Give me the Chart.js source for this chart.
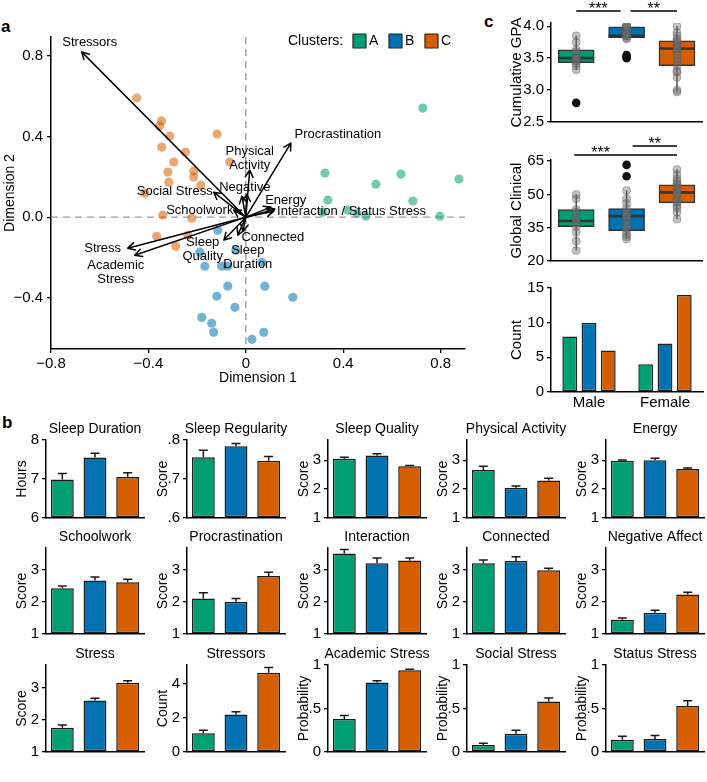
<!DOCTYPE html>
<html><head><meta charset="utf-8">
<script src="https://cdn.jsdelivr.net/npm/chart.js@4.4.1/dist/chart.umd.min.js"></script>
<style>
body{margin:0;background:#fff;width:707px;height:782px;position:relative;overflow:hidden;font-family:'Liberation Sans',Arial,Helvetica,sans-serif}
canvas{position:absolute}
.lbl{position:absolute;font-weight:bold;font-size:17px;line-height:20px}
</style></head><body>
<div class="lbl" style="left:1px;top:17px">a</div>
<div class="lbl" style="left:2px;top:413px">b</div>
<div class="lbl" style="left:484px;top:12px">c</div>
<script>
// ---------------- DATA ----------------
const clusters = ['A', 'B', 'C'];
const palette = ['#009E73', '#0072B2', '#D55E00'];
const paletteLight = ['rgba(0,158,115,0.55)', 'rgba(0,114,178,0.55)', 'rgba(213,94,0,0.55)'];

// Panel a: biplot scores
const ptsAx = [0.727, 0.325, 0.637, 0.534, 0.875, 0.337, 0.686, 0.316, 0.419, 0.456, 0.493, 0.797];
const ptsAy = [0.542, 0.219, 0.214, 0.164, 0.189, 0.085, 0.080, 0.025, 0.035, 0.020, 0.005, 0.005];
const ptsBx = [-0.115, -0.189, -0.168, -0.099, -0.074, 0.066, -0.074, 0.078, -0.119, 0.193, -0.045, -0.181, -0.140, -0.132, 0.074, 0.025, -0.041];
const ptsBy = [-0.065, -0.174, -0.244, -0.244, -0.244, -0.224, -0.343, -0.343, -0.393, -0.398, -0.448, -0.498, -0.527, -0.572, -0.572, -0.607, -0.164];
const ptsCx = [-0.448, -0.346, -0.354, -0.312, -0.345, -0.248, -0.296, -0.118, -0.066, -0.320, -0.214, -0.316, -0.214, -0.185, -0.415, -0.341, -0.222, -0.366, -0.288, -0.238];
const ptsCy = [0.592, 0.478, 0.453, 0.403, 0.348, 0.323, 0.274, 0.413, 0.274, 0.224, 0.229, 0.174, 0.199, 0.159, 0.119, 0.010, -0.005, -0.095, -0.144, -0.090];

// Panel a: loadings (arrows)
const arrowNames = ['Stressors', 'Procrastination', 'Physical Activity', 'Negative Affect', 'Sleep Regularity', 'Social Stress', 'Schoolwork', 'Energy', 'Interaction', 'Status Stress', 'Connected', 'Sleep Duration', 'Sleep Quality', 'Stress', 'Academic Stress'];
const arrowX = [-0.674, 0.185, 0.016, 0.004, -0.016, -0.132, -0.05, 0.103, 0.119, 0.115, -0.012, -0.033, -0.09, -0.485, -0.456];
const arrowY = [0.821, 0.368, 0.234, 0.114, 0.104, 0.124, 0.035, 0.05, 0.04, 0.03, -0.07, -0.09, -0.114, -0.154, -0.189];
const labelText = ['Stressors', 'Procrastination', 'Physical\nActivity', 'Negative', 'Social Stress', 'Schoolwork', 'Energy', 'Interaction / Status Stress', 'Connected', 'Sleep\nQuality', 'Sleep\nDuration', 'Stress', 'Academic\nStress'];
const labelX = [-0.641, 0.378, 0.016, -0.004, -0.292, -0.189, 0.164, 0.434, 0.111, -0.177, 0.008, -0.588, -0.534];
const labelY = [0.866, 0.413, 0.291, 0.149, 0.129, 0.035, 0.085, 0.03, -0.1, -0.162, -0.199, -0.154, -0.274];
const biplotXTicks = [-0.8, -0.4, 0, 0.4, 0.8];
const biplotXLabels = ['\u22120.8', '\u22120.4', '0', '0.4', '0.8'];
const biplotYTicks = [-0.4, 0, 0.4, 0.8];
const biplotYLabels = ['\u22120.4', '0.0', '0.4', '0.8'];

// Panel c: boxplots
const gpaLo = [3.32, 3.78, 2.97], gpaQ1 = [3.43, 3.82, 3.38], gpaMed = [3.50, 3.85, 3.65], gpaQ3 = [3.63, 3.99, 3.77], gpaHi = [3.85, 4.0, 4.0];
const gpaPtsA = [3.32, 3.38, 3.42, 3.45, 3.47, 3.49, 3.5, 3.52, 3.6, 3.63, 3.75, 3.85];
const gpaPtsB = [3.8, 3.82, 3.85, 3.85, 3.86, 3.88, 3.9, 3.93, 3.95, 3.97, 4.0, 4.0, 4.0, 4.0];
const gpaPtsC = [2.97, 3.0, 3.2, 3.28, 3.3, 3.38, 3.45, 3.5, 3.55, 3.6, 3.65, 3.65, 3.7, 3.72, 3.75, 3.77, 3.8, 3.85, 3.9, 4.0];
const gpaOutA = [2.8], gpaOutB = [3.5, 3.52, 3.55], gpaOutC = [];
const gpaTicks = [2.5, 3.0, 3.5, 4.0], gpaTickLabels = ['2.5', '3.0', '3.5', '4.0'];

const gcLo = [24.7, 29.9, 38.9], gcQ1 = [35.5, 33.7, 46.2], gcMed = [38.0, 40.2, 50.9], gcQ3 = [43.2, 43.6, 54.3], gcHi = [50, 51.8, 61.2];
const gcPtsA = [24.7, 29, 33, 35.5, 37, 38, 38.5, 40, 42, 43.2, 48, 50];
const gcPtsB = [29.9, 31, 32, 33.7, 35, 36, 38, 40, 40.2, 41, 42, 43.6, 46, 51.8, 48];
const gcPtsC = [38.9, 42, 44, 46.2, 47, 48, 49, 50, 50.9, 51, 52, 53, 54.3, 55, 56, 57, 59, 61.2, 45, 50.5];
const gcOutA = [], gcOutB = [58.2, 63.3], gcOutC = [];
const gcTicks = [20, 35, 50, 65], gcTickLabels = ['20', '35', '50', '65'];

// Panel c: counts
const genders = ['Male', 'Female'];
const countA = [8, 4], countB = [10, 7], countC = [6, 14];
const countTicks = [0, 5, 10, 15];

// Panel b: means and standard errors per cluster (A, B, C)
const sleepDuration = [6.99, 7.55, 7.05], sleepDurationSE = [0.15, 0.11, 0.11];
const sleepRegularity = [0.756, 0.784, 0.747], sleepRegularitySE = [0.018, 0.007, 0.011];
const sleepQuality = [3.05, 3.16, 2.79], sleepQualitySE = [0.05, 0.06, 0.03];
const physicalActivity = [2.66, 2.05, 2.3], physicalActivitySE = [0.13, 0.06, 0.08];
const energy = [2.98, 3.0, 2.7], energySE = [0.03, 0.07, 0.03];
const schoolwork = [2.42, 2.66, 2.61], schoolworkSE = [0.07, 0.11, 0.09];
const procrastination = [2.1, 2.0, 2.8], procrastinationSE = [0.18, 0.1, 0.12];
const interaction = [3.5, 3.2, 3.28], interactionSE = [0.12, 0.16, 0.08];
const connected = [3.2, 3.27, 2.98], connectedSE = [0.1, 0.13, 0.06];
const negativeAffect = [1.44, 1.66, 2.23], negativeAffectSE = [0.06, 0.08, 0.07];
const stress = [1.75, 2.6, 3.15], stressSE = [0.09, 0.07, 0.06];
const stressors = [1.1, 2.2, 4.65], stressorsSE = [0.17, 0.16, 0.3];
const academicStress = [0.38, 0.8, 0.94], academicStressSE = [0.04, 0.02, 0.01];
const socialStress = [0.08, 0.21, 0.58], socialStressSE = [0.02, 0.04, 0.04];
const statusStress = [0.14, 0.15, 0.53], statusStressSE = [0.04, 0.04, 0.06];

const scoreTicks = [1, 2, 3], scoreLabels = ['1', '2', '3'];
const hourTicks = [6, 7, 8], hourLabels = ['6', '7', '8'];
const regTicks = [0.6, 0.7, 0.8], regLabels = ['.6', '.7', '.8'];
const countTicksB = [0, 2, 4], countLabelsB = ['0', '2', '4'];
const probTicks = [0, 0.5, 1], probLabels = ['0', '.5', '1'];

const smallPanels = [
  ['Sleep Duration', 'Hours', sleepDuration, sleepDurationSE, 6, 8, hourTicks, hourLabels],
  ['Sleep Regularity', 'Score', sleepRegularity, sleepRegularitySE, 0.6, 0.8, regTicks, regLabels],
  ['Sleep Quality', 'Score', sleepQuality, sleepQualitySE, 1, 3.7, scoreTicks, scoreLabels],
  ['Physical Activity', 'Score', physicalActivity, physicalActivitySE, 1, 3.7, scoreTicks, scoreLabels],
  ['Energy', 'Score', energy, energySE, 1, 3.7, scoreTicks, scoreLabels],
  ['Schoolwork', 'Score', schoolwork, schoolworkSE, 1, 3.67, scoreTicks, scoreLabels],
  ['Procrastination', 'Score', procrastination, procrastinationSE, 1, 3.67, scoreTicks, scoreLabels],
  ['Interaction', 'Score', interaction, interactionSE, 1, 3.67, scoreTicks, scoreLabels],
  ['Connected', 'Score', connected, connectedSE, 1, 3.67, scoreTicks, scoreLabels],
  ['Negative Affect', 'Score', negativeAffect, negativeAffectSE, 1, 3.67, scoreTicks, scoreLabels],
  ['Stress', 'Score', stress, stressSE, 1, 3.7, scoreTicks, scoreLabels],
  ['Stressors', 'Count', stressors, stressorsSE, 0, 5.1, countTicksB, countLabelsB],
  ['Academic Stress', 'Probability', academicStress, academicStressSE, 0, 1, probTicks, probLabels],
  ['Social Stress', 'Probability', socialStress, socialStressSE, 0, 1, probTicks, probLabels],
  ['Status Stress', 'Probability', statusStress, statusStressSE, 0, 1, probTicks, probLabels]
];

// ---------------- SETUP ----------------
const FONT = "'Liberation Sans', Arial, Helvetica, sans-serif";
Chart.defaults.font.family = FONT;
Chart.defaults.color = '#000';
Chart.defaults.animation = false;
Chart.defaults.plugins.legend.display = false;
Chart.defaults.plugins.tooltip.enabled = false;

function makeCanvas(left, top, w, h) {
  const c = document.createElement('canvas');
  c.width = w; c.height = h;
  c.style.left = left + 'px'; c.style.top = top + 'px';
  c.style.width = w + 'px'; c.style.height = h + 'px';
  document.body.appendChild(c);
  return c;
}

function yAxis(o) {
  return {
    type: 'linear', position: 'left', min: o.min, max: o.max,
    afterFit: s => { s.width = o.width; },
    afterBuildTicks: s => { s.ticks = o.ticks.map(v => ({ value: v })); },
    ticks: { autoSkip: false, font: { size: o.tickSize }, padding: o.tickPad ?? 3, callback: (v, i) => o.labels[i] },
    grid: { display: true, drawOnChartArea: false, drawTicks: true, tickLength: 4, color: '#000', lineWidth: 1.3 },
    border: { display: true, color: '#000', width: 1.5 },
    title: { display: !!o.title, text: o.title, font: { size: o.titleSize }, padding: { top: o.titlePad, bottom: 0 } }
  };
}

// ---------------- PANEL A ----------------
const biplotPlugin = {
  id: 'biplot',
  beforeDatasetsDraw(chart) {
    const { ctx, chartArea: ca, scales: { x, y } } = chart;
    const x0 = x.getPixelForValue(0), y0 = y.getPixelForValue(0);
    ctx.save();
    ctx.strokeStyle = '#9a9a9a'; ctx.lineWidth = 1.4; ctx.setLineDash([7, 5]);
    ctx.beginPath();
    ctx.moveTo(x0, ca.top); ctx.lineTo(x0, ca.bottom);
    ctx.moveTo(ca.left, y0); ctx.lineTo(ca.right, y0);
    ctx.stroke();
    ctx.restore();
  },
  afterDatasetsDraw(chart) {
    const { ctx, chartArea: ca, scales: { x, y } } = chart;
    const x0 = x.getPixelForValue(0), y0 = y.getPixelForValue(0);
    ctx.save();
    ctx.strokeStyle = '#000'; ctx.lineWidth = 1.5; ctx.lineCap = 'round'; ctx.lineJoin = 'round';
    for (let i = 0; i < arrowX.length; i++) {
      const x1 = x.getPixelForValue(arrowX[i]), y1 = y.getPixelForValue(arrowY[i]);
      const ang = Math.atan2(y1 - y0, x1 - x0), h = 8, a = 0.5;
      ctx.beginPath();
      ctx.moveTo(x0, y0); ctx.lineTo(x1, y1);
      ctx.moveTo(x1 - h * Math.cos(ang - a), y1 - h * Math.sin(ang - a));
      ctx.lineTo(x1, y1);
      ctx.lineTo(x1 - h * Math.cos(ang + a), y1 - h * Math.sin(ang + a));
      ctx.stroke();
    }
    ctx.fillStyle = '#000'; ctx.font = '13px ' + FONT; ctx.textAlign = 'center'; ctx.textBaseline = 'middle';
    for (let i = 0; i < labelText.length; i++) {
      const lines = labelText[i].split('\n');
      const cx = x.getPixelForValue(labelX[i]), cy = y.getPixelForValue(labelY[i]);
      lines.forEach((t, k) => ctx.fillText(t, cx, cy + (k - (lines.length - 1) / 2) * 14));
    }
    // legend
    ctx.font = '14px ' + FONT; ctx.textAlign = 'left';
    const ly = ca.top + 4;
    ctx.fillText('Clusters:', 288, ly);
    const lx = [353, 389, 425];
    clusters.forEach((c, i) => {
      ctx.fillStyle = palette[i]; ctx.fillRect(lx[i], ly - 7, 13, 14);
      ctx.strokeStyle = '#222'; ctx.lineWidth = 1.2; ctx.strokeRect(lx[i], ly - 7, 13, 14);
      ctx.fillStyle = '#000'; ctx.fillText(c, lx[i] + 16, ly);
    });
    ctx.restore();
  }
};

const toPts = (xs, ys) => xs.map((v, i) => ({ x: v, y: ys[i] }));
new Chart(makeCanvas(0, 0, 480, 395), {
  type: 'scatter',
  data: {
    datasets: [
      { data: toPts(ptsAx, ptsAy), backgroundColor: paletteLight[0], borderWidth: 0, pointRadius: 4.6 },
      { data: toPts(ptsBx, ptsBy), backgroundColor: paletteLight[1], borderWidth: 0, pointRadius: 4.6 },
      { data: toPts(ptsCx, ptsCy), backgroundColor: paletteLight[2], borderWidth: 0, pointRadius: 4.6 }
    ]
  },
  options: {
    responsive: false, devicePixelRatio: 1,
    layout: { padding: { top: 37, right: 15, left: 0, bottom: 0 } },
    scales: {
      x: {
        type: 'linear', position: 'bottom', min: -0.8, max: 0.9,
        afterFit: s => { s.height = 46; },
        afterBuildTicks: s => { s.ticks = biplotXTicks.map(v => ({ value: v })); },
        ticks: { autoSkip: false, maxRotation: 0, font: { size: 15 }, padding: 2, callback: (v, i) => biplotXLabels[i] },
        grid: { display: true, drawOnChartArea: false, drawTicks: true, tickLength: 4, color: '#000', lineWidth: 1.3 },
        border: { display: true, color: '#000', width: 1.5 },
        title: { display: true, text: 'Dimension 1', font: { size: 14 }, padding: { top: 0, bottom: 8.6 } }
      },
      y: yAxis({ min: -0.655, max: 0.895, width: 51, ticks: biplotYTicks, labels: biplotYLabels, tickSize: 15, title: 'Dimension 2', titleSize: 14, titlePad: 1.6, tickPad: 4 })
    }
  },
  plugins: [biplotPlugin]
});

// ---------------- PANEL C ----------------
function boxPlugin(lo, med, hi, brackets) {
  return {
    id: 'boxes',
    beforeDatasetsDraw(chart) {
      const meta = chart.getDatasetMeta(chart.data.datasets.length - 1), ys = chart.scales.y, ctx = chart.ctx;
      ctx.save(); ctx.strokeStyle = '#333'; ctx.lineWidth = 1.3;
      meta.data.forEach((b, i) => {
        ctx.beginPath();
        ctx.moveTo(b.x, ys.getPixelForValue(lo[i])); ctx.lineTo(b.x, ys.getPixelForValue(hi[i]));
        ctx.stroke();
      });
      ctx.restore();
    },
    afterDatasetDraw(chart, args) {
      if (args.index !== chart.data.datasets.length - 1) return;
      const ys = chart.scales.y, ctx = chart.ctx;
      ctx.save(); ctx.strokeStyle = '#333'; ctx.lineWidth = 2.6;
      args.meta.data.forEach((b, i) => {
        const yy = ys.getPixelForValue(med[i]);
        ctx.beginPath(); ctx.moveTo(b.x - b.width / 2, yy); ctx.lineTo(b.x + b.width / 2, yy); ctx.stroke();
      });
      ctx.restore();
    },
    afterDraw(chart) {
      const xs = chart.scales.x, ctx = chart.ctx, top = chart.chartArea.top;
      ctx.save(); ctx.strokeStyle = '#000'; ctx.fillStyle = '#000'; ctx.lineWidth = 1.5;
      ctx.font = '16px ' + FONT; ctx.textAlign = 'center'; ctx.textBaseline = 'alphabetic';
      brackets.forEach(([i, j, lab, off, insL, insR, txtDx]) => {
        const x1 = xs.getPixelForValue(i) + insL, x2 = xs.getPixelForValue(j) - insR, yy = top - off;
        ctx.beginPath(); ctx.moveTo(x1, yy); ctx.lineTo(x2, yy); ctx.stroke();
        ctx.fillText(lab, (x1 + x2) / 2 + txtDx, yy + 3);
      });
      ctx.restore();
    }
  };
}

function boxChart(top, height, padTop, q1, q3, lo, med, hi, pts, outs, ymin, ymax, ticks, labels, title, brackets) {
  const ptData = [], outData = [];
  pts.forEach((arr, g) => arr.forEach(v => ptData.push({ x: clusters[g], y: v })));
  outs.forEach((arr, g) => arr.forEach(v => outData.push({ x: clusters[g], y: v })));
  new Chart(makeCanvas(500, top, 207, height), {
    type: 'bar',
    data: {
      labels: clusters,
      datasets: [
        { type: 'scatter', data: outData, backgroundColor: '#111', borderWidth: 0, pointRadius: 4.3, order: 1 },
        { type: 'scatter', data: ptData, backgroundColor: 'rgba(110,110,110,0.42)', borderColor: 'rgba(90,90,90,0.5)', borderWidth: 0.8, pointRadius: 4, order: 1 },
        { data: q1.map((v, i) => [v, q3[i]]), backgroundColor: palette, borderColor: '#333', borderWidth: 1.5, borderSkipped: false, barThickness: 36, order: 2 }
      ]
    },
    options: {
      responsive: false, devicePixelRatio: 1,
      layout: { padding: { top: padTop, right: 4, left: 0, bottom: 0 } },
      scales: {
        x: { type: 'category', offset: true, afterFit: s => { s.height = 10; }, ticks: { display: false }, grid: { display: false, drawTicks: false }, border: { display: true, color: '#000', width: 1.5 } },
        y: yAxis({ min: ymin, max: ymax, width: 51, ticks: ticks, labels: labels, tickSize: 15, title: title, titleSize: 15, titlePad: 8 })
      }
    },
    plugins: [boxPlugin(lo, med, hi, brackets)]
  });
}

boxChart(0, 134, 23, gpaQ1, gpaQ3, gpaLo, gpaMed, gpaHi, [gpaPtsA, gpaPtsB, gpaPtsC], [gpaOutA, gpaOutB, gpaOutC], 2.5, 4.05, gpaTicks, gpaTickLabels, 'Cumulative GPA',
  [[0, 1, '***', 12, 0, 6, 0], [1, 2, '**', 12, 4, 0, 0]]);
boxChart(126, 147, 34, gcQ1, gcQ3, gcLo, gcMed, gcHi, [gcPtsA, gcPtsB, gcPtsC], [gcOutA, gcOutB, gcOutC], 20, 65.5, gcTicks, gcTickLabels, 'Global Clinical',
  [[0, 2, '***', 5, -2, 0, -25], [1, 2, '**', 14, 6, 0, 0]]);

new Chart(makeCanvas(500, 270, 207, 145), {
  type: 'bar',
  data: {
    labels: genders,
    datasets: [countA, countB, countC].map((d, i) => ({ data: d, backgroundColor: palette[i], borderColor: '#222', borderWidth: 1.5, borderSkipped: false }))
  },
  options: {
    responsive: false, devicePixelRatio: 1,
    layout: { padding: { top: 18, right: 4, left: 0, bottom: 0 } },
    datasets: { bar: { barPercentage: 0.77, categoryPercentage: 0.76 } },
    scales: {
      x: { type: 'category', afterFit: s => { s.height = 23; }, ticks: { font: { size: 15 }, padding: 2 }, grid: { display: false, drawTicks: false }, border: { display: true, color: '#000', width: 1.5 } },
      y: yAxis({ min: 0, max: 15, width: 51, ticks: countTicks, labels: countTicks.map(String), tickSize: 15, title: 'Count', titleSize: 15, titlePad: 8 })
    }
  }
});

// ---------------- PANEL B ----------------
const colX = [46, 187, 328, 467, 606];
const rowTop = [440, 548, 665], rowBot = [520, 636, 754];
const plotW = 98, yW = 34;

function errPlugin(means, se, title) {
  return {
    id: 'errbars',
    afterDatasetsDraw(chart) {
      const meta = chart.getDatasetMeta(0), ys = chart.scales.y, ctx = chart.ctx;
      ctx.save(); ctx.strokeStyle = '#1a1a1a'; ctx.lineWidth = 1.5;
      meta.data.forEach((b, i) => {
        const yb = ys.getPixelForValue(means[i]), yt = ys.getPixelForValue(means[i] + se[i]);
        ctx.beginPath(); ctx.moveTo(b.x, yb); ctx.lineTo(b.x, yt);
        ctx.moveTo(b.x - 4.5, yt); ctx.lineTo(b.x + 4.5, yt); ctx.stroke();
      });
      ctx.restore();
    },
    afterDraw(chart) {
      const ca = chart.chartArea, ctx = chart.ctx;
      ctx.save(); ctx.fillStyle = '#000'; ctx.font = '14px ' + FONT;
      ctx.textAlign = 'center'; ctx.textBaseline = 'middle';
      ctx.fillText(title, (ca.left + ca.right) / 2, ca.top - 11);
      ctx.restore();
    }
  };
}

smallPanels.forEach((p, k) => {
  const [title, yTitle, means, se, ymin, ymax, ticks, labels] = p;
  const r = Math.floor(k / 5), c = k % 5;
  const ph = rowBot[r] - rowTop[r];
  new Chart(makeCanvas(colX[c] - yW, rowTop[r] - 20, yW + plotW + yW, 20 + ph + 10), {
    type: 'bar',
    data: { labels: clusters, datasets: [{ data: means, base: ymin, backgroundColor: palette, borderColor: '#1a1a1a', borderWidth: 1.5, borderSkipped: false, barPercentage: 0.7, categoryPercentage: 1 }] },
    options: {
      responsive: false, devicePixelRatio: 1,
      layout: { padding: { top: 20, right: yW, left: 0, bottom: 0 } },
      scales: {
        x: { type: 'category', afterFit: s => { s.height = 10; }, ticks: { display: false }, grid: { display: false, drawTicks: false }, border: { display: true, color: '#000', width: 1.5 } },
        y: yAxis({ min: ymin, max: ymax, width: yW, ticks: ticks, labels: labels, tickSize: 15, title: yTitle, titleSize: 14, titlePad: 1.6 })
      }
    },
    plugins: [errPlugin(means, se, title)]
  });
});
</script>
</body></html>
